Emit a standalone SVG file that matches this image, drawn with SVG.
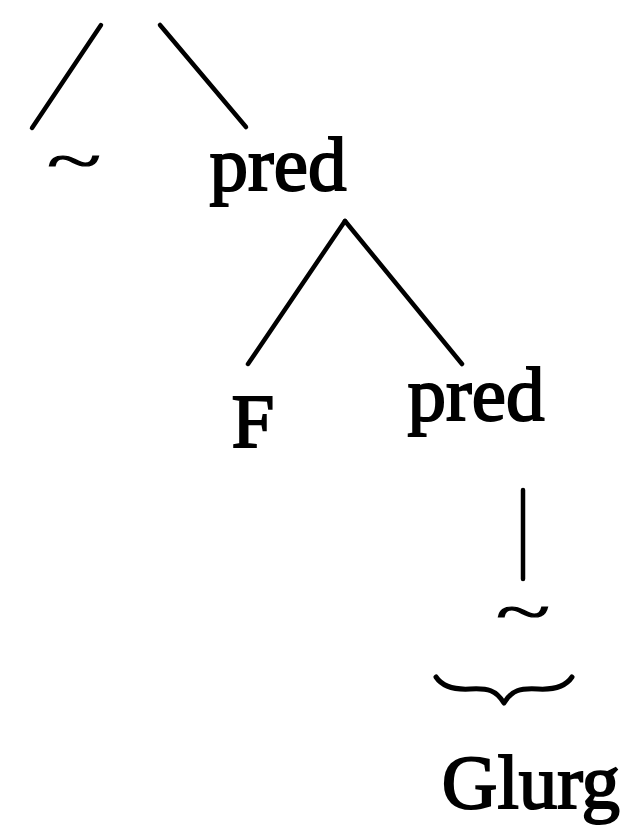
<svg xmlns="http://www.w3.org/2000/svg" width="621" height="840" viewBox="0 0 621 840">
<style>
.t{font-family:"Liberation Serif","Times New Roman",serif;font-size:77px;fill:#000;text-anchor:middle;stroke:#000;stroke-width:2}
.tl{font-family:"Liberation Serif","Times New Roman",serif;font-size:100px;fill:#000;text-anchor:middle;stroke:#000;stroke-width:2}
.e{stroke:#000;stroke-width:4.5;stroke-linecap:round;fill:none}
</style>
<rect width="621" height="840" fill="#fff"/>
<g id="edges">
<line class="e" x1="101" y1="25" x2="32" y2="128"/>
<line class="e" x1="160" y1="25" x2="246" y2="127"/>
<line class="e" x1="345" y1="221" x2="248" y2="364"/>
<line class="e" x1="345" y1="221" x2="462" y2="364"/>
<line class="e" x1="523" y1="490" x2="523" y2="579"/>
</g>
<g id="n-tilde1"><text class="tl" transform="translate(74,181) scale(1,0.6)">~</text></g>
<g id="n-pred1"><text class="t" x="278" y="190">pred</text></g>
<g id="n-F"><text class="t" x="253" y="447">F</text></g>
<g id="n-pred2"><text class="t" x="476" y="420">pred</text></g>
<g id="n-tilde2"><text class="tl" transform="translate(523,632) scale(1,0.6)">~</text></g>
<g id="n-brace"><path d="M436,677 C442,686 452,690 470,689 C488,688 496,690 504,703 C512,690 520,688 538,689 C556,690 566,686 572,677" stroke="#000" stroke-width="5" fill="none" stroke-linecap="round" stroke-linejoin="round"/></g>
<g id="n-glurg"><text class="t" x="531" y="808">Glurg</text></g>
</svg>
